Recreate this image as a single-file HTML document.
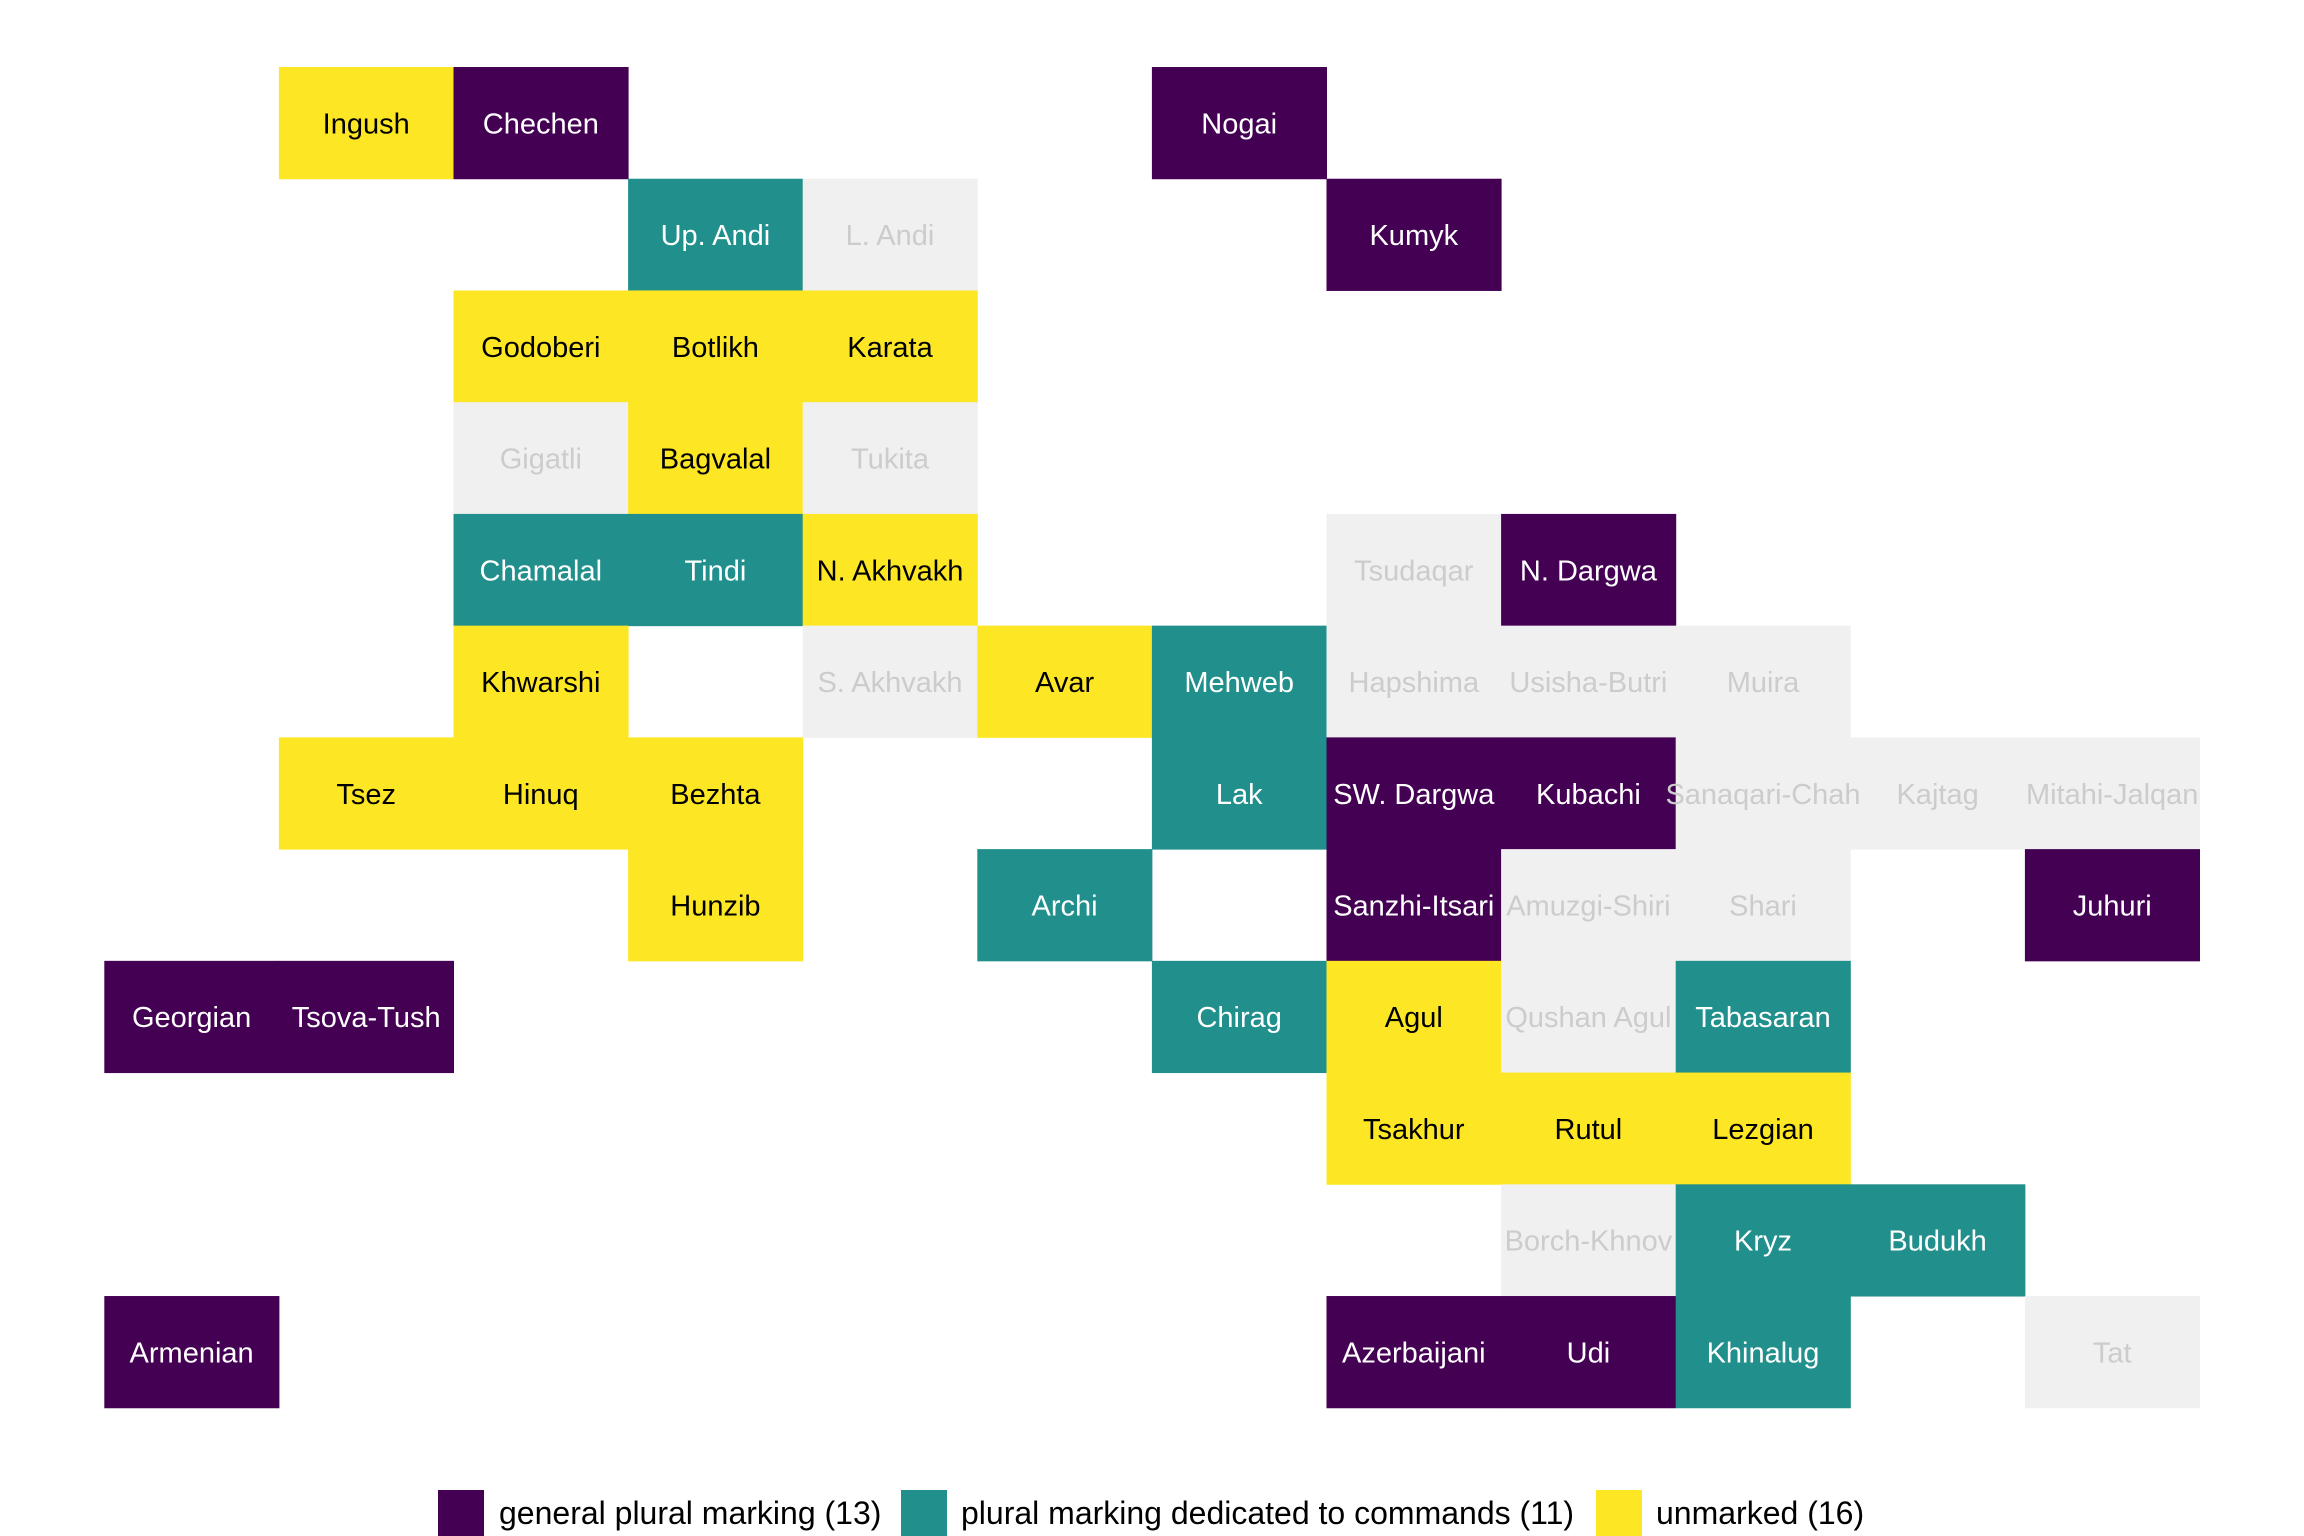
<!DOCTYPE html>
<html><head><meta charset="utf-8"><style>
html,body{margin:0;padding:0;background:#fff;}
svg{display:block;font-family:"Liberation Sans",Arial,sans-serif;}
</style></head><body>
<svg xmlns="http://www.w3.org/2000/svg" width="2304" height="1536" viewBox="0 0 2304 1536">
<g id="tiles"></g><g id="labels" font-size="29" text-anchor="middle"></g>
<g font-size="32">
<rect x="438" y="1490" width="46" height="60" fill="#440154"/>
<text x="499" y="1524">general plural marking (13)</text>
<rect x="901" y="1490" width="46" height="60" fill="#21908C"/>
<text x="961" y="1524">plural marking dedicated to commands (11)</text>
<rect x="1596" y="1490" width="46" height="60" fill="#FDE725"/>
<text x="1656" y="1524">unmarked (16)</text>
</g>
</svg>
<script>
var d=[
["Ingush",1,0,"Y"],["Chechen",2,0,"P"],["Nogai",6,0,"P"],
["Up. Andi",3,1,"T"],["L. Andi",4,1,"G"],["Kumyk",7,1,"P"],
["Godoberi",2,2,"Y"],["Botlikh",3,2,"Y"],["Karata",4,2,"Y"],
["Gigatli",2,3,"G"],["Bagvalal",3,3,"Y"],["Tukita",4,3,"G"],
["Chamalal",2,4,"T"],["Tindi",3,4,"T"],["N. Akhvakh",4,4,"Y"],["Tsudaqar",7,4,"G"],["N. Dargwa",8,4,"P"],
["Khwarshi",2,5,"Y"],["S. Akhvakh",4,5,"G"],["Avar",5,5,"Y"],["Mehweb",6,5,"T"],["Hapshima",7,5,"G"],["Usisha-Butri",8,5,"G"],["Muira",9,5,"G"],
["Tsez",1,6,"Y"],["Hinuq",2,6,"Y"],["Bezhta",3,6,"Y"],["Lak",6,6,"T"],["SW. Dargwa",7,6,"P"],["Kubachi",8,6,"P"],["Sanaqari-Chah",9,6,"G"],["Kajtag",10,6,"G"],["Mitahi-Jalqan",11,6,"G"],
["Hunzib",3,7,"Y"],["Archi",5,7,"T"],["Sanzhi-Itsari",7,7,"P"],["Amuzgi-Shiri",8,7,"G"],["Shari",9,7,"G"],["Juhuri",11,7,"P"],
["Georgian",0,8,"P"],["Tsova-Tush",1,8,"P"],["Chirag",6,8,"T"],["Agul",7,8,"Y"],["Qushan Agul",8,8,"G"],["Tabasaran",9,8,"T"],
["Tsakhur",7,9,"Y"],["Rutul",8,9,"Y"],["Lezgian",9,9,"Y"],
["Borch-Khnov",8,10,"G"],["Kryz",9,10,"T"],["Budukh",10,10,"T"],
["Armenian",0,11,"P"],["Azerbaijani",7,11,"P"],["Udi",8,11,"P"],["Khinalug",9,11,"T"],["Tat",11,11,"G"]];
var fill={P:"#440154",T:"#21908C",Y:"#FDE725",G:"#F0F0F0"},tc={P:"#ffffff",T:"#ffffff",Y:"#000000",G:"#CCCCCC"};
var W=174.6,H=111.73,X0=104.3,Y0=67,ns="http://www.w3.org/2000/svg";
var tg=document.getElementById("tiles"),lg=document.getElementById("labels");
d.forEach(function(r){
 var x=X0+r[1]*W,y=Y0+r[2]*H;
 var e=document.createElementNS(ns,"rect");
 e.setAttribute("x",x.toFixed(2));e.setAttribute("y",y.toFixed(2));
 e.setAttribute("width",(W+0.5).toFixed(2));e.setAttribute("height",(H+0.5).toFixed(2));
 e.setAttribute("fill",fill[r[3]]);tg.appendChild(e);
 var t=document.createElementNS(ns,"text");
 t.setAttribute("x",(x+W/2).toFixed(2));t.setAttribute("y",(y+H/2+10.5).toFixed(2));
 t.setAttribute("fill",tc[r[3]]);t.textContent=r[0];lg.appendChild(t);
});
</script>
</body></html>
